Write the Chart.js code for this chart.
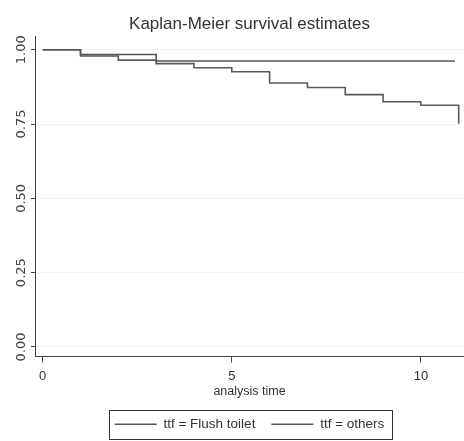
<!DOCTYPE html>
<html>
<head>
<meta charset="utf-8">
<script src="https://cdn.jsdelivr.net/npm/chart.js@4.4.0/dist/chart.umd.min.js"></script>
<style>
  html, body { margin: 0; padding: 0; background: #fff; }
  #wrap { width: 464px; height: 441px; }
</style>
</head>
<body>
<div id="wrap"><canvas id="kmChart"></canvas></div>
<script>
// tick labels
const xTicks = [0, 5, 10];
const yTicks = [0, 0.25, 0.5, 0.75, 1];

// survival steps
const flushTimes = [0, 1, 3, 10.9];
const flushSurv = [1, 0.984, 0.962, 0.962];

const othersTimes = [0, 1, 2, 3, 4, 5, 6, 7, 8, 9, 10, 11];
const othersSurv = [1, 0.979, 0.965, 0.953, 0.939, 0.926, 0.888, 0.873, 0.849, 0.825, 0.813, 0.751];

const seriesNames = ['ttf = Flush toilet', 'ttf = others'];

const sans = '"Liberation Sans", Arial, sans-serif';

const legendFontSize = 13.5;
const legendPadding = 16;

function toPoints(times, surv) {
    return times.map((t, i) => ({ x: t, y: surv[i] }));
}

// box around the legend, as in the original
const legendFrame = {
    id: 'legendFrame',
    afterDraw(chart) {
        const lg = chart.legend;
        if (!lg || !lg.legendHitBoxes || !lg.legendHitBoxes.length) return;
        const hb = lg.legendHitBoxes;
        const first = hb[0];
        const last = hb[hb.length - 1];
        const ctx = chart.ctx;
        ctx.save();
        ctx.strokeStyle = '#333';
        ctx.lineWidth = 1;
        const left = Math.round(first.left - 6) + 0.5;
        const right = Math.round(last.left + last.width + 8) + 0.5;
        const top = Math.round(first.top - 8) + 0.5;
        const bottom = Math.round(first.top + first.height + 8) + 0.5;
        ctx.strokeRect(left, top, right - left, bottom - top);
        ctx.restore();
    }
};

function createKmChart() {
    const ctx = document.getElementById('kmChart');
    if (!ctx) return;

    new Chart(ctx, {
        type: 'line',
        data: {
            datasets: [
                {
                    label: seriesNames[0],
                    data: toPoints(flushTimes, flushSurv),
                    borderColor: '#555',
                    borderWidth: 1.6,
                    stepped: true,
                    pointRadius: 0,
                    fill: false
                },
                {
                    label: seriesNames[1],
                    data: toPoints(othersTimes, othersSurv),
                    borderColor: '#5a5a5a',
                    borderWidth: 1.6,
                    stepped: true,
                    pointRadius: 0,
                    fill: false
                }
            ]
        },
        options: {
            responsive: true,
            maintainAspectRatio: false,
            animation: false,
            layout: { padding: 0 },
            plugins: {
                title: {
                    display: true,
                    text: 'Kaplan-Meier survival estimates',
                    fullSize: false,
                    color: '#333',
                    font: { family: sans, size: 17, weight: 'normal' },
                    padding: { top: 14.5, bottom: 2 }
                },
                legend: {
                    position: 'bottom',
                    fullSize: false,
                    labels: {
                        usePointStyle: true,
                        pointStyle: 'line',
                        pointStyleWidth: 42,
                        padding: legendPadding,
                        color: '#333',
                        font: { family: sans, size: legendFontSize }
                    }
                },
                tooltip: { enabled: false }
            },
            scales: {
                x: {
                    type: 'linear',
                    min: -0.204,
                    max: 11.14,
                    afterBuildTicks: (scale) => { scale.ticks = xTicks.map(v => ({ value: v })); },
                    afterFit: (scale) => { scale.height = 441 - 356.5 - (legendFontSize + legendPadding + 10); },
                    border: { color: '#444', width: 1 },
                    grid: { drawOnChartArea: false, drawTicks: true, tickLength: 6, tickColor: '#444' },
                    ticks: {
                        color: '#333',
                        padding: 6,
                        maxRotation: 0,
                        font: { family: sans, size: 13 }
                    },
                    title: {
                        display: true,
                        text: 'analysis time',
                        color: '#333',
                        font: { family: sans, size: 12.5 },
                        padding: { top: 0, bottom: 2 }
                    }
                },
                y: {
                    type: 'linear',
                    min: -0.032,
                    max: 1.043,
                    afterBuildTicks: (scale) => { scale.ticks = yTicks.map(v => ({ value: v })); },
                    afterFit: (scale) => { scale.width = 35; },
                    border: { color: '#444', width: 1 },
                    grid: { color: 'rgba(0,0,0,0.05)', tickLength: 4, tickColor: '#444' },
                    ticks: {
                        color: '#444',
                        padding: -5.5,
                        minRotation: 90,
                        maxRotation: 90,
                        crossAlign: 'center',
                        font: { family: '"DejaVu Sans", sans-serif', size: 13 },
                        callback: (v) => Number(v).toFixed(2)
                    }
                }
            }
        },
        plugins: [legendFrame]
    });
}

document.addEventListener('DOMContentLoaded', () => {
    createKmChart();
});
</script>
</body>
</html>
